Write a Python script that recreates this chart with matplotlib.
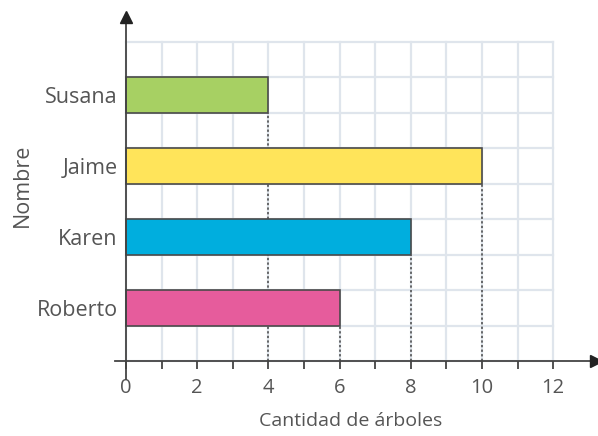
import matplotlib.pyplot as plt

nombres = ['Roberto', 'Karen', 'Jaime', 'Susana']
arboles = [6, 8, 10, 4]
colores = ['#e65c9c', '#00aede', '#ffe45a', '#a7d063']
posiciones = [1.5, 3.5, 5.5, 7.5]
xticks = [0, 2, 4, 6, 8, 10, 12]

plt.rcParams['font.family'] = ['Open Sans', 'DejaVu Sans']

fig = plt.figure(figsize=(5.98, 4.36), dpi=100)
ax = fig.add_axes([0.1928, 0.1302, 0.8037, 0.8305])
ax.set_xlim(-0.3, 13.2)
ax.set_ylim(-0.5, 9.7)

# grid
grid_c = '#dfe5ec'
for x in range(0, 13):
    ax.plot([x, x], [0, 9], color=grid_c, lw=1.6, zorder=0)
for y in range(0, 10):
    ax.plot([0, 12], [y, y], color=grid_c, lw=1.6, zorder=0)

# dotted guides from bars to axis
for v, p in zip(arboles, posiciones):
    ax.plot([v, v], [0, p - 0.5], color='#444444', lw=1.1, ls=(0, (1.5, 1.5)), zorder=1)

ax.barh(posiciones, arboles, height=1, color=colores, edgecolor='#4a4a4a', lw=1.2, zorder=2)

for s in ['top', 'right']:
    ax.spines[s].set_visible(False)
for s in ['left', 'bottom']:
    ax.spines[s].set_position(('data', 0))
    ax.spines[s].set_color('#444444')
    ax.spines[s].set_linewidth(1.3)
    ax.spines[s].set_zorder(3)

ax.plot(13.2, 0, marker='>', color='#222222', ms=9, clip_on=False, zorder=4)
ax.plot(0, 9.7, marker='^', color='#222222', ms=9, clip_on=False, zorder=4)

ax.set_xticks(xticks)
ax.set_xticks(range(0, 13), minor=True)
ax.tick_params(axis='x', which='both', direction='out', length=6, width=1.3,
               color='#444444', labelsize=14.5, labelcolor='#555555', pad=6)
ax.set_yticks(posiciones)
ax.set_yticklabels(nombres)
ax.tick_params(axis='y', length=0, labelsize=15.5, labelcolor='#555555', pad=6)

fig.text(0.587, 0.034, 'Cantidad de árboles', ha='center', va='center',
         fontsize=14, color='#555555')
fig.text(0.038, 0.576, 'Nombre', ha='center', va='center', rotation=90,
         fontsize=15.5, color='#555555')

fig.savefig('out.png', dpi=100)
